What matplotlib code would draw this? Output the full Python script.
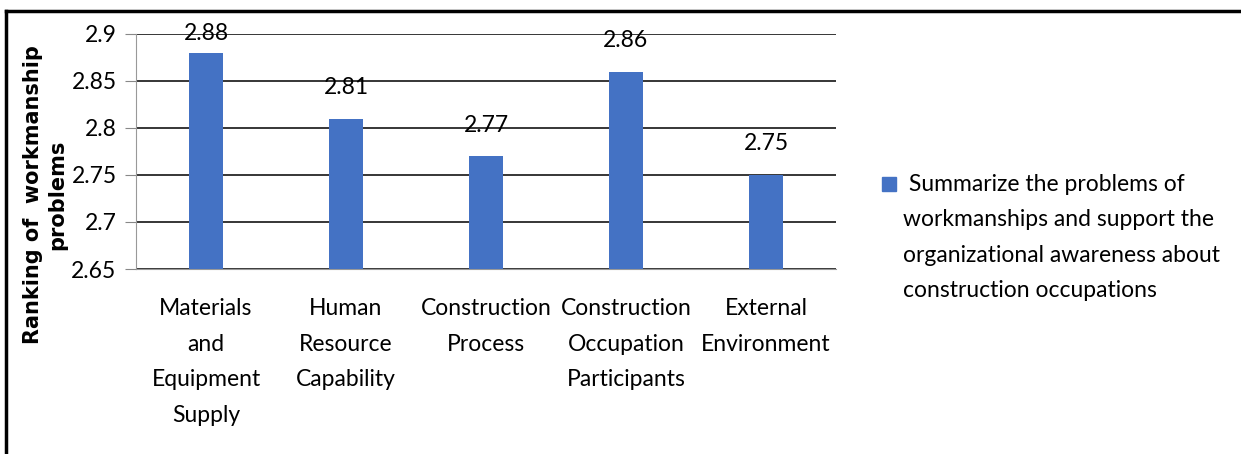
import matplotlib.pyplot as plt
from matplotlib.lines import Line2D
from matplotlib.patches import Rectangle

categories = [
    "Materials\nand\nEquipment\nSupply",
    "Human\nResource\nCapability",
    "Construction\nProcess",
    "Construction\nOccupation\nParticipants",
    "External\nEnvironment",
]
values = [2.88, 2.81, 2.77, 2.86, 2.75]
yticks = [2.65, 2.7, 2.75, 2.8, 2.85, 2.9]
series_label = (" Summarize the problems of\nworkmanships and support the\n"
                "organizational awareness about\nconstruction occupations")

plt.rcParams["font.family"] = ["Lato", "DejaVu Sans"]
bar_color = "#4472C4"

fig = plt.figure(figsize=(12.41, 4.54), dpi=100)
ax = fig.add_axes([136 / 1241, 1 - 269 / 454, 700 / 1241, 235 / 454])

x = range(len(values))
ax.bar(x, [v - 2.65 for v in values], bottom=2.65, width=0.24, color=bar_color, zorder=3)
# value labels sit ~30px above the bar, but never past the top of the plot
for xi, v in zip(x, values):
    ax.text(xi, min(v + 0.033, 2.9), f"{v:.2f}", ha="center", va="center",
            fontsize=16.5, zorder=4)

ax.set_xlim(-0.5, len(values) - 0.5)
ax.set_ylim(2.65, 2.9)
ax.set_yticks(yticks)
ax.set_yticklabels([f"{t:g}" for t in yticks], fontsize=16.5)
ax.set_xticks(list(x))
ax.set_xticklabels(categories, fontsize=16.5, linespacing=1.85)
ax.tick_params(axis="x", length=0, pad=21)
ax.tick_params(axis="y", length=8, color="#888888", pad=6)
ax.grid(axis="y", color="black", linewidth=1.1, zorder=0)
for s in ["top", "right"]:
    ax.spines[s].set_visible(False)
ax.spines["left"].set_color("#999999")
ax.spines["bottom"].set_color("#999999")

fig.text(45 / 1241, 1 - 195 / 454, "Ranking of  workmanship\nproblems", rotation=90,
         ha="center", va="center", fontsize=15, fontweight="bold",
         family=["DejaVu Sans"], linespacing=1.25, multialignment="center")

# legend: square marker beside the first line of the wrapped label
fig.add_artist(Rectangle((882 / 1241, 1 - 191 / 454), 14 / 1241, 14 / 454,
                         transform=fig.transFigure, color=bar_color))
fig.text(903 / 1241, 1 - 174 / 454, series_label, ha="left", va="top",
         fontsize=16.5, linespacing=1.85)

# outer frame (left and top edges visible)
fig.add_artist(Line2D([6 / 1241, 6 / 1241], [0, 1 - 11 / 454], color="black", lw=2.5))
fig.add_artist(Line2D([6 / 1241, 1], [1 - 11 / 454, 1 - 11 / 454], color="black", lw=2.5))

fig.savefig("out.png", dpi=100)
